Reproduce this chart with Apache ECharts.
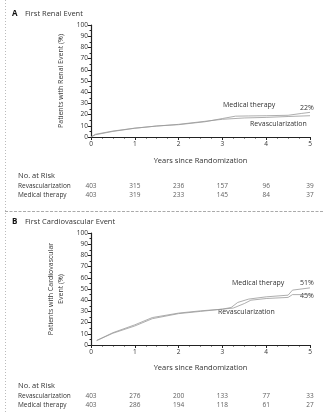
<!DOCTYPE html>
<html><head><meta charset="utf-8">
<script src="https://cdn.jsdelivr.net/npm/echarts@6/dist/echarts.min.js"></script>
<style>html,body{margin:0;padding:0;background:#fff}#c{width:323px;height:413px}</style>
</head><body><div id="c"></div>
<script>
// ---- Data ----
var years = [0, 1, 2, 3, 4, 5];
var riskRows = ['Revascularization', 'Medical therapy'];

// Panel A: First renal event (%)
var renalRevasc = [[0,0],[0.1,2],[0.5,5],[1,7.8],[1.5,9.8],[2,11.3],[2.6,14],[3,15.8],[3.5,17],[4,17.5],[4.5,18.3],[5,19]];
var renalMedical = [[0,0],[0.1,2.4],[0.5,5.3],[1,7.9],[1.5,9.8],[2,11],[2.6,13.6],[3,16.5],[3.3,18.6],[3.6,18.8],[4,19],[4.5,19.4],[4.8,21],[5,22]];
var renalRiskRevasc = [403, 315, 236, 157, 96, 39];
var renalRiskMedical = [403, 319, 233, 145, 84, 37];

// Panel B: First cardiovascular event (%)
var cvRevasc = [[0.13,4],[0.5,10.5],[1,17],[1.4,23.5],[2,28],[2.5,30],[3,32],[3.25,33],[3.5,37],[3.65,40],[4,41.5],[4.5,42.5],[4.6,45],[5,45]];
var cvMedical = [[0.13,4],[0.5,11],[1,18],[1.4,24.5],[2,28.5],[2.5,30.5],[3,32],[3.2,33.5],[3.35,38],[3.6,41],[4,43],[4.5,44.5],[4.6,49],[5,51]];
var cvRiskRevasc = [403, 276, 200, 133, 77, 33];
var cvRiskMedical = [403, 286, 194, 118, 61, 27];

function riskData(rev, med) {
  var d = [];
  years.forEach(function (yr, i) {
    d.push([yr, riskRows[0], rev[i]]);
    d.push([yr, riskRows[1], med[i]]);
  });
  return d;
}

var FONT = 'Open Sans';
var TXT = '#333';
var axisColor = '#222';

function valueX(gi, showLabels, name, gap) {
  return {
    type: 'value', gridIndex: gi, min: 0, max: 5, interval: 1,
    show: showLabels,
    name: name, nameLocation: 'middle', nameGap: gap,
    nameTextStyle: { fontFamily: FONT, fontSize: 7.5, color: TXT },
    axisLine: { show: showLabels, lineStyle: { color: axisColor, width: 1.2 } },
    axisTick: { show: showLabels, length: 3, lineStyle: { color: axisColor } },
    minorTick: { show: showLabels, splitNumber: 4, length: 1.5, lineStyle: { color: axisColor } },
    axisLabel: { show: showLabels, margin: 4, fontFamily: FONT, fontSize: 6.5, color: TXT },
    splitLine: { show: false }
  };
}
function valueY(gi, name, gap) {
  return {
    type: 'value', gridIndex: gi, min: 0, max: 100, interval: 10,
    name: name, nameLocation: 'middle', nameGap: gap, nameRotate: 90,
    nameTextStyle: { fontFamily: FONT, fontSize: 7, color: TXT, lineHeight: 10 },
    axisLine: { show: true, lineStyle: { color: axisColor, width: 1.2 } },
    axisTick: { show: true, length: 3, lineStyle: { color: axisColor } },
    minorTick: { show: true, splitNumber: 2, length: 1.5, lineStyle: { color: axisColor } },
    axisLabel: { margin: 3, fontFamily: FONT, fontSize: 6.5, color: TXT },
    splitLine: { show: false }
  };
}
function catY(gi) {
  return {
    type: 'category', gridIndex: gi, data: riskRows, inverse: true,
    axisLine: { show: false }, axisTick: { show: false },
    axisLabel: { interval: 0, align: 'left', margin: 73, fontFamily: FONT, fontSize: 6.5, color: TXT }
  };
}
function curve(xi, data) {
  return {
    type: 'line', xAxisIndex: xi, yAxisIndex: xi, data: data,
    showSymbol: false, symbol: 'none', silent: true,
    lineStyle: { color: '#999', width: 0.8 }
  };
}
function riskSeries(xi, rev, med) {
  return {
    type: 'scatter', xAxisIndex: xi, yAxisIndex: xi, data: riskData(rev, med),
    symbolSize: 1, itemStyle: { color: 'rgba(0,0,0,0)' }, silent: true,
    label: { show: true, position: 'inside', formatter: function (p) { return p.value[2]; },
      fontFamily: FONT, fontSize: 6.5, color: TXT }
  };
}
function txt(x, y, s, opts) {
  var st = { x: x, y: y, text: s, font: '7px "' + FONT + '"', fill: TXT, textAlign: 'left', textVerticalAlign: 'middle' };
  for (var k in (opts || {})) st[k] = opts[k];
  return { type: 'text', silent: true, style: st };
}

var chart = echarts.init(document.getElementById('c'), null, { renderer: 'canvas' });
chart.setOption({
  animation: false,
  backgroundColor: '#fff',
  grid: [
    { left: 91, right: 13, top: 25, height: 112 },
    { left: 91, right: 13, top: 181.5, height: 18 },
    { left: 91, right: 13, top: 233, height: 112 },
    { left: 91, right: 13, top: 392, height: 18 }
  ],
  xAxis: [
    valueX(0, true, 'Years since Randomization', 20),
    valueX(1, false, '', 0),
    valueX(2, true, 'Years since Randomization', 19),
    valueX(3, false, '', 0)
  ],
  yAxis: [
    valueY(0, 'Patients with Renal Event (%)', 25),
    catY(1),
    valueY(2, 'Patients with Cardiovascular\nEvent (%)', 23),
    catY(3)
  ],
  series: [
    curve(0, renalRevasc),
    curve(0, renalMedical),
    riskSeries(1, renalRiskRevasc, renalRiskMedical),
    curve(2, cvRevasc),
    curve(2, cvMedical),
    riskSeries(3, cvRiskRevasc, cvRiskMedical)
  ],
  graphic: [
    { type: 'line', silent: true, shape: { x1: 5.5, y1: 0, x2: 5.5, y2: 413 }, style: { stroke: '#bbb', lineWidth: 1, lineDash: [1, 2] } },
    { type: 'line', silent: true, shape: { x1: 5, y1: 211.5, x2: 323, y2: 211.5 }, style: { stroke: '#aaa', lineWidth: 1, lineDash: [3, 1.5] } },
    txt(12, 14, 'A', { font: 'bold 8px "' + FONT + '"', fill: '#111' }),
    txt(25, 14, 'First Renal Event', { font: '7.5px "' + FONT + '"' }),
    txt(12, 222, 'B', { font: 'bold 8px "' + FONT + '"', fill: '#111' }),
    txt(25, 222, 'First Cardiovascular Event', { font: '7.5px "' + FONT + '"' }),
    txt(18, 176, 'No. at Risk', { font: '7.5px "' + FONT + '"' }),
    txt(18, 386, 'No. at Risk', { font: '7.5px "' + FONT + '"' }),
    txt(223, 105, 'Medical therapy'),
    txt(300, 108, '22%'),
    txt(250, 124, 'Revascularization'),
    txt(232, 283, 'Medical therapy'),
    txt(300, 283, '51%'),
    txt(300, 296, '45%'),
    txt(218, 312, 'Revascularization')
  ]
});
</script></body></html>
